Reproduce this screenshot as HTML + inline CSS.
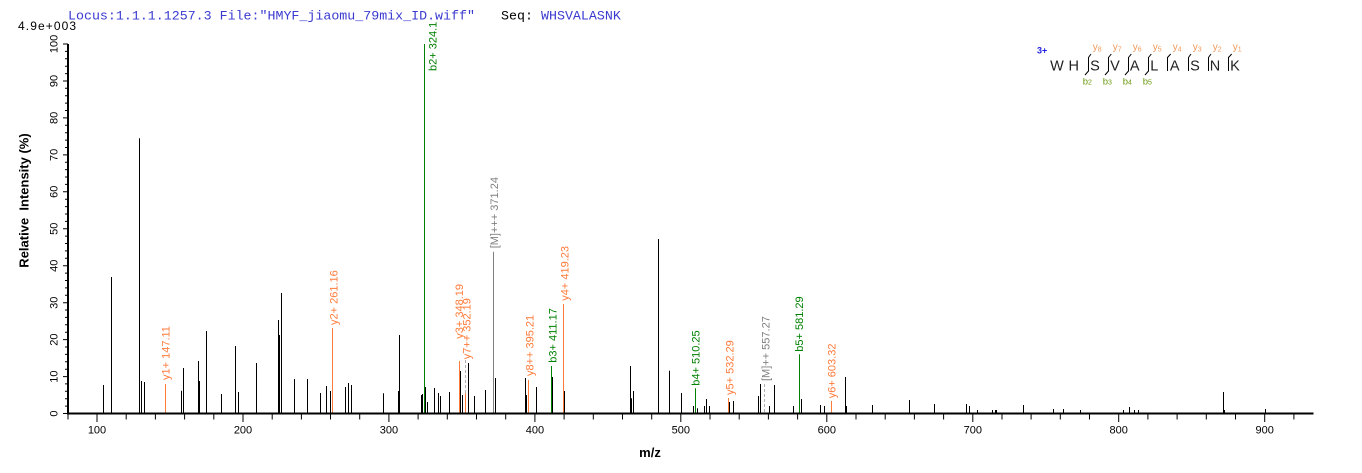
<!DOCTYPE html>
<html><head><meta charset="utf-8"><style>
html,body{margin:0;padding:0;background:#fff;}
svg{display:block;}
text{font-family:"Liberation Sans",Arial,sans-serif;}
.mono{font-family:"Liberation Mono","Courier New",monospace;font-size:13.3px;}
.lbl{font-size:11px;}
</style></head><body>
<svg width="1362" height="473" viewBox="0 0 1362 473" xmlns="http://www.w3.org/2000/svg">
<rect width="1362" height="473" fill="#fff"/>
<!-- header -->
<text class="mono" x="68" y="19.5" fill="#3a3ad0">Locus:1.1.1.1257.3 File:"HMYF_jiaomu_79mix_ID.wiff"</text>
<text class="mono" x="501" y="19.5" fill="#000">Seq:</text>
<text class="mono" x="541" y="19.5" fill="#3a3ad0">WHSVALASNK</text>
<rect x="16" y="21" width="63" height="10" fill="#fff"/>
<text x="18" y="30" font-size="12" letter-spacing="1.1" fill="#000">4.9e+003</text>

<!-- black peaks -->
<path fill="none" stroke="#000" stroke-width="1" d="
M103.5 413.5V385 M111.5 413.5V277 M139.5 413.5V138.3 M141.5 413.5V381 M144.5 413.5V382
M181.5 413.5V390.7 M183.5 413.5V368 M198.5 413.5V361 M199.5 413.5V381 M206.5 413.5V331
M221.5 413.5V394 M235.5 413.5V346 M238.5 413.5V392 M256.5 413.5V363 M278.5 413.5V320
M279.5 413.5V335 M281.5 413.5V293 M294.5 413.5V379 M307.5 413.5V379 M320.5 413.5V393
M326.5 413.5V386 M330.5 413.5V391 M345.5 413.5V387 M348.5 413.5V383 M351.5 413.5V385
M383.5 413.5V393.3 M398.5 413.5V391 M399.5 413.5V335 M421.5 413.5V395 M422.5 413.5V394
M425.5 413.5V387 M427.5 413.5V402 M434.5 413.5V388 M438.5 413.5V393 M440.5 413.5V396
M449.5 413.5V392 M460.5 413.5V371 M462.5 413.5V395 M468.5 413.5V363 M474.5 413.5V396
M485.5 413.5V390 M495.5 413.5V378 M525.5 413.5V378 M526.5 413.5V395 M536.5 413.5V387
M552.5 413.5V377 M564.5 413.5V391 M630.5 413.5V366 M631.5 413.5V398.3 M633.5 413.5V391
M658.5 413.5V239 M669.5 413.5V370.7 M681.5 413.5V393 M693.5 413.5V406 M697.5 413.5V408.3
M704.5 413.5V406 M706.5 413.5V399 M709.5 413.5V406 M729.5 413.5V402 M733.5 413.5V401
M758.5 413.5V396 M760.5 413.5V384 M769.5 413.5V406 M774.5 413.5V385 M793.5 413.5V406
M801.5 413.5V399 M820.5 413.5V405 M824.5 413.5V406 M845.5 413.5V377 M846.5 413.5V406
M872.5 413.5V405 M909.5 413.5V400 M934.5 413.5V404 M966.5 413.5V404 M969.5 413.5V406
M977.5 413.5V410 M992.5 413.5V410 M995.5 413.5V410 M996.5 413.5V410 M1023.5 413.5V405
M1053.5 413.5V409 M1063.5 413.5V409 M1080.5 413.5V410 M1123.5 413.5V410 M1129.5 413.5V407
M1134.5 413.5V410 M1138.5 413.5V410 M1223.5 413.5V392 M1224.5 413.5V410 M1265.5 413.5V409"/>

<!-- orange peaks -->
<path fill="none" stroke="#ff7b3a" stroke-width="1" d="
M165.5 413.5V384 M332.5 413.5V328 M459.5 413.5V361 M465.5 413.5V393.3 M528.5 413.5V380
M563.5 413.5V304 M728.5 413.5V398 M831.5 413.5V401"/>
<!-- green peaks -->
<path fill="none" stroke="#008000" stroke-width="1" d="
M424.5 413.5V44 M551.5 413.5V366 M695.5 413.5V388.3 M799.5 413.5V354.3"/>
<!-- gray -->
<path fill="none" stroke="#808080" stroke-width="1" d="M493.5 413.5V251.7"/>
<path fill="none" stroke="#b0b0b0" stroke-width="1" stroke-dasharray="3,2" d="M465.5 360V393 M764.5 384V413"/>

<!-- peak labels -->
<g class="lbl" dominant-baseline="central">
<text transform="translate(166.7,380) rotate(-90)" fill="#ff7b3a">y1+ 147.11</text>
<text transform="translate(334.3,325) rotate(-90)" fill="#ff7b3a">y2+ 261.16</text>
<text transform="translate(433.3,71) rotate(-90)" fill="#008000">b2+ 324.1</text>
<text transform="translate(460,338.7) rotate(-90)" fill="#ff7b3a">y3+ 348.19</text>
<text transform="translate(467.3,359.3) rotate(-90)" fill="#ff7b3a">y7++ 352.19</text>
<text transform="translate(495,248.3) rotate(-90)" fill="#808080">[M]+++ 371.24</text>
<text transform="translate(530.7,376) rotate(-90)" fill="#ff7b3a">y8++ 395.21</text>
<text transform="translate(553.3,362.7) rotate(-90)" fill="#008000">b3+ 411.17</text>
<text transform="translate(565.7,300.7) rotate(-90)" fill="#ff7b3a">y4+ 419.23</text>
<text transform="translate(696.7,385.7) rotate(-90)" fill="#008000">b4+ 510.25</text>
<text transform="translate(730.7,395) rotate(-90)" fill="#ff7b3a">y5+ 532.29</text>
<text transform="translate(766.7,381) rotate(-90)" fill="#808080">[M]++ 557.27</text>
<text transform="translate(800,351.7) rotate(-90)" fill="#008000">b5+ 581.29</text>
<text transform="translate(832.7,398.3) rotate(-90)" fill="#ff7b3a">y6+ 603.32</text>
</g>

<!-- axes -->
<path fill="none" stroke="#000" stroke-width="2" d="M67 413.5H1313.5 M68 44V414.5"/>
<path fill="none" stroke="#000" stroke-width="1" d="
M63 413.5H68 M65 406.1H68 M65 398.7H68 M65 391.3H68 M65 383.9H68
M63 376.6H68 M65 369.2H68 M65 361.8H68 M65 354.4H68 M65 347H68
M63 339.6H68 M65 332.2H68 M65 324.8H68 M65 317.4H68 M65 310H68
M63 302.7H68 M65 295.3H68 M65 287.9H68 M65 280.5H68 M65 273.1H68
M63 265.7H68 M65 258.3H68 M65 250.9H68 M65 243.5H68 M65 236.1H68
M63 228.8H68 M65 221.4H68 M65 214H68 M65 206.6H68 M65 199.2H68
M63 191.8H68 M65 184.4H68 M65 177H68 M65 169.6H68 M65 162.2H68
M63 154.9H68 M65 147.5H68 M65 140.1H68 M65 132.7H68 M65 125.3H68
M63 117.9H68 M65 110.5H68 M65 103.1H68 M65 95.7H68 M65 88.3H68
M63 81H68 M65 73.6H68 M65 66.2H68 M65 58.8H68 M65 51.4H68 M63 44H68
M68 413.5V419.5 M97 413.5V422 M126.2 413.5V419.5 M155.4 413.5V419.5 M184.6 413.5V419.5 M213.8 413.5V419.5
M243 413.5V422 M272.2 413.5V419.5 M301.4 413.5V419.5 M330.5 413.5V419.5 M359.7 413.5V419.5
M388.9 413.5V422 M418.1 413.5V419.5 M447.3 413.5V419.5 M476.5 413.5V419.5 M505.7 413.5V419.5
M534.9 413.5V422 M564.1 413.5V419.5 M593.3 413.5V419.5 M622.5 413.5V419.5 M651.7 413.5V419.5
M680.8 413.5V422 M710 413.5V419.5 M739.2 413.5V419.5 M768.4 413.5V419.5 M797.6 413.5V419.5
M826.8 413.5V422 M856 413.5V419.5 M885.2 413.5V419.5 M914.4 413.5V419.5 M943.6 413.5V419.5
M972.8 413.5V422 M1002 413.5V419.5 M1031.1 413.5V419.5 M1060.3 413.5V419.5 M1089.5 413.5V419.5
M1118.7 413.5V422 M1147.9 413.5V419.5 M1177.1 413.5V419.5 M1206.3 413.5V419.5 M1235.5 413.5V419.5
M1264.7 413.5V422 M1293.9 413.5V419.5"/>

<!-- y tick labels -->
<g font-size="11" text-anchor="middle" dominant-baseline="central" fill="#000">
<text transform="translate(54.7,413.5) rotate(-90)">0</text>
<text transform="translate(54.7,376.6) rotate(-90)">10</text>
<text transform="translate(54.7,339.6) rotate(-90)">20</text>
<text transform="translate(54.7,302.7) rotate(-90)">30</text>
<text transform="translate(54.7,265.7) rotate(-90)">40</text>
<text transform="translate(54.7,228.8) rotate(-90)">50</text>
<text transform="translate(54.7,191.8) rotate(-90)">60</text>
<text transform="translate(54.7,154.9) rotate(-90)">70</text>
<text transform="translate(54.7,117.9) rotate(-90)">80</text>
<text transform="translate(54.7,81) rotate(-90)">90</text>
<text transform="translate(54.7,44) rotate(-90)">100</text>
</g>
<!-- x tick labels -->
<g font-size="11" text-anchor="middle" fill="#000">
<text x="97" y="433.5">100</text>
<text x="243" y="433.5">200</text>
<text x="388.9" y="433.5">300</text>
<text x="534.9" y="433.5">400</text>
<text x="680.8" y="433.5">500</text>
<text x="826.8" y="433.5">600</text>
<text x="972.8" y="433.5">700</text>
<text x="1118.7" y="433.5">800</text>
<text x="1264.7" y="433.5">900</text>
</g>

<text transform="translate(24,200.5) rotate(-90)" font-size="13" font-weight="bold" text-anchor="middle" dominant-baseline="central" xml:space="preserve">Relative  Intensity (%)</text>
<text x="650" y="457" font-size="13" font-weight="bold" text-anchor="middle">m/z</text>

<!-- legend -->
<text x="1037" y="53.5" font-size="9" font-weight="bold" fill="#2020e0">3+</text>
<g font-size="14.5" text-anchor="middle" fill="#222">
<text x="1057" y="70.5">W</text>
<text x="1073.7" y="70.5">H</text>
<text x="1095" y="70.5">S</text>
<text x="1115" y="70.5">V</text>
<text x="1134.7" y="70.5">A</text>
<text x="1154.3" y="70.5">L</text>
<text x="1174.7" y="70.5">A</text>
<text x="1195" y="70.5">S</text>
<text x="1215" y="70.5">N</text>
<text x="1235" y="70.5">K</text>
</g>
<path fill="none" stroke="#000" stroke-width="1" d="
M1091 54L1088.5 57.5V71L1085 75
M1111.3 54L1108.5 57.5V71L1105 75
M1131.3 54L1128.5 57.5V71L1125 75
M1151.3 54L1148.5 57.5V71L1145 75
M1170.7 54L1167.5 57.5V71
M1191 54L1188.5 57.5V71
M1211 54L1208.5 57.5V71
M1231.7 54L1228.5 57.5V71"/>
<g fill="#f09a5a">
<text x="1092.7" y="50" font-size="10">y<tspan font-size="7" dy="1.5">8</tspan></text>
<text x="1112.7" y="50" font-size="10">y<tspan font-size="7" dy="1.5">7</tspan></text>
<text x="1132.7" y="50" font-size="10">y<tspan font-size="7" dy="1.5">6</tspan></text>
<text x="1152.7" y="50" font-size="10">y<tspan font-size="7" dy="1.5">5</tspan></text>
<text x="1172.7" y="50" font-size="10">y<tspan font-size="7" dy="1.5">4</tspan></text>
<text x="1192.7" y="50" font-size="10">y<tspan font-size="7" dy="1.5">3</tspan></text>
<text x="1212.7" y="50" font-size="10">y<tspan font-size="7" dy="1.5">2</tspan></text>
<text x="1232.7" y="50" font-size="10">y<tspan font-size="7" dy="1.5">1</tspan></text>
</g>
<g fill="#6a9a10">
<text x="1082.7" y="84.5" font-size="9.5">b<tspan font-size="7">2</tspan></text>
<text x="1102.7" y="84.5" font-size="9.5">b<tspan font-size="7">3</tspan></text>
<text x="1122.7" y="84.5" font-size="9.5">b<tspan font-size="7">4</tspan></text>
<text x="1142.7" y="84.5" font-size="9.5">b<tspan font-size="7">5</tspan></text>
</g>
</svg>
</body></html>
